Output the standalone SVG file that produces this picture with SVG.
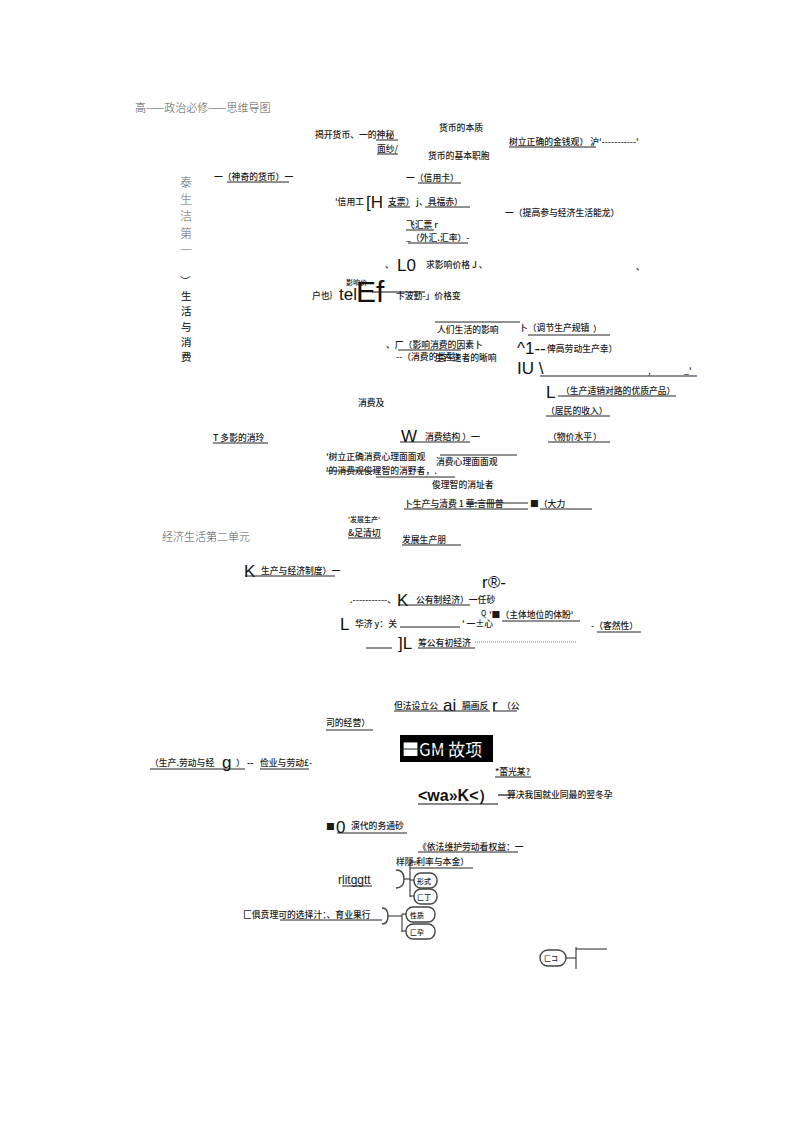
<svg xmlns="http://www.w3.org/2000/svg" width="793" height="1122" viewBox="0 0 793 1122">
<style>
text{font-family:"Noto Sans CJK SC","Noto Sans",sans-serif;font-size:8.8px;fill:#1a1a1a;font-weight:500}
.big{font-family:"Liberation Sans",sans-serif;font-size:17px;fill:#111;font-weight:normal}
.huge{font-family:"Liberation Sans",sans-serif;font-size:30px;fill:#111;font-weight:normal}
.title{font-size:11px;fill:#555;font-weight:300}
.vt{font-size:12px;fill:#666;font-weight:300}
.vt2{font-size:10.5px;fill:#333}
.sm{font-size:7px}
line,path{stroke:#222;stroke-width:1;fill:none}
.ln{stroke:#111;stroke-width:1.2}
.pill{fill:#fff;stroke:#444;stroke-width:1.4}
.dot{stroke:#777;stroke-dasharray:1 1}
</style>
<rect width="793" height="1122" fill="#fff"/>

<g id="title"><text class="title" x="135" y="112">高——政治必修——思维导图</text></g>
<g id="unit1-vertical">
<text class="vt" x="180" y="187">泰</text>
<text class="vt" x="180" y="204">生</text>
<text class="vt" x="180" y="221">洁</text>
<text class="vt" x="180" y="238">第</text>
<text class="vt" x="180" y="255">一</text>
<text class="vt2" x="180" y="285">︶</text>
<text class="vt2" x="181" y="300">生</text>
<text class="vt2" x="181" y="315">活</text>
<text class="vt2" x="181" y="331">与</text>
<text class="vt2" x="181" y="346">消</text>
<text class="vt2" x="181" y="361">费</text>
</g>
<g id="unit2"><text class="title" x="162" y="541">经济生活第二单元</text></g>

<g id="n-money">
<text x="439" y="131">货币的本质</text>
<text x="315" y="138">揭开货币、一的神秘</text>
<text x="377" y="152">面纱/</text>
<text x="509" y="145">树立正确的金钱观）  沪'-----------'</text>
<text x="428" y="159">货币的基本职胞</text>
<text x="214" y="180">一（神奇的货币）一</text>
<text x="406" y="181">一（信用卡）</text>
</g>
<g id="n-credit">
<text x="335" y="205">'信用工</text>
<text class="big" x="366" y="208">[H</text>
<text x="388" y="205">支票）  j、具福赤）</text>
<text x="505" y="216">一（提高参与经济生活能龙）</text>
<text x="406" y="228">飞汇票 r</text>
<text x="406" y="241">_（外汇.汇率）-</text>
</g>
<g id="n-price">
<text x="385" y="268">、</text>
<text class="big" x="397" y="271">L0</text>
<text x="426" y="268">求影响价格 J 、</text>
<text x="636" y="270">、</text>
<text class="sm" x="346" y="285">影响价</text>
<text x="312" y="299">户也｝</text>
<text class="big" x="339" y="300">tel</text>
<text class="huge" x="356" y="302">Ef</text>
<text x="396" y="299">卞波勤-」价格变</text>
</g>
<g id="n-influence">
<text x="437" y="333">人们生活的影响</text>
<text x="519" y="331">卜（调节生产规镇</text>
<text x="593" y="332" font-size="12">）</text>
<text x="386" y="348">、厂（影响消费的因素卜</text>
<text class="big" x="517" y="354">^1--</text>
<text x="547" y="352">俾高劳动生产幸）</text>
<text x="396" y="360">--（消费的类型）</text>
<text x="435" y="361">生产速者的晰响</text>
<text class="big" x="517" y="374">IU \</text>
<text x="648" y="374">,</text>
<text x="684" y="374">_'</text>
<text class="big" x="546" y="398">L</text>
<text x="561" y="394">（生产适销对路的优质产品）</text>
</g>
<g id="n-consume">
<text x="358" y="406">消费及</text>
<text x="546" y="414">（居民的收入）</text>
<text x="213" y="441">T 多影的消玲</text>
<text class="big" x="401" y="442">W</text>
<text x="425" y="440">消费结构 ）一</text>
<text x="548" y="440">（物价水平</text>
<text x="593" y="440" font-size="12">）</text>
<text x="326" y="460">'树立正确消费心理面面观</text>
<text x="436" y="465">消费心理面面观</text>
<text x="326" y="474">'的消费观俊理智的消野者，.</text>
<text x="432" y="488">俊理智的消址者</text>
</g>
<g id="n-production">
<text x="404" y="507">卜生产与清费 1 華:言冊普</text>
<text x="530" y="507">■（大力</text>
<text class="sm" x="348" y="522">'发展生产'</text>
<text x="348" y="536">&amp;足清切</text>
<text x="402" y="543">发展生产朋</text>
</g>
<g id="n-system">
<text class="big" x="244" y="577">K</text>
<text x="261" y="574">生产与经济制度）一</text>
<text class="big" x="482" y="588">r®-</text>
<text x="350" y="603">.-----------、</text>
<text class="big" x="397" y="606">K</text>
<text x="416" y="603">公有制经济）一任砂</text>
<text class="sm" x="481" y="616">Q</text>
<text x="489" y="618">'■（主体地位的体盼'</text>
<text class="big" x="340" y="630">L</text>
<text x="355" y="627">华济 y：关</text>
<text x="462" y="627">'  一±心</text>
<text x="591" y="629">-（客然性）</text>
<text class="big" x="398" y="649">]L</text>
<text x="418" y="646">筹公有初经济</text>
</g>
<g id="n-company">
<text x="394" y="709">但法设立公</text>
<text class="big" x="443" y="711">ai</text>
<text x="462" y="709">膈画反</text>
<text class="big" x="492" y="711">r</text>
<text x="502" y="709">（公</text>
<text x="326" y="726">司的经营）</text>
<rect x="400" y="735" width="93" height="27" fill="#000"/>
<text x="402" y="756" style="font-size:17px;fill:#fff;font-weight:normal">■GM 故项</text>
</g>
<g id="n-labor">
<text x="150" y="766">（生产.劳动与经</text>
<text class="big" x="222" y="768">g</text>
<text x="236" y="766">）</text>
<text x="247" y="766" style="font-weight:bold">--</text>
<text x="260" y="766">俭业与劳动£-</text>
<text x="495" y="775">*蕾光某?</text>
<text x="418" y="801" style="font-family:'Liberation Sans',sans-serif;font-size:16px;font-weight:bold;fill:#111">&lt;wa»K&lt;）</text>
<text x="507" y="798">算决我国就业同最的翌冬孕</text>
<text x="326" y="830">■</text>
<text class="big" x="336" y="833">0</text>
<text x="351" y="829">演代的务通砂</text>
<text x="418" y="850">《依法维护劳动看权益：一</text>
<text x="396" y="865">样隱.利率与本金）</text>
<text x="338" y="884" style="font-family:'Liberation Sans',sans-serif;font-size:12px;font-weight:normal">rlitggtt</text>
<text x="243" y="918">匚俱贲理可的选择汁：、育业果行</text>
</g>
<g id="n-pills">
<rect class="pill" x="414" y="873" width="23" height="15" rx="7"/>
<text x="417" y="884" class="sm">形式</text>
<rect class="pill" x="414" y="889" width="23" height="15" rx="7"/>
<text x="417" y="900" class="sm">匚丁</text>
<rect class="pill" x="406" y="907" width="29" height="15" rx="7"/>
<text x="410" y="918" class="sm">性质</text>
<rect class="pill" x="406" y="924" width="29" height="15" rx="7"/>
<text x="410" y="935" class="sm">匚孕</text>
<rect class="pill" x="540" y="950" width="26" height="16" rx="8"/>
<text x="544" y="961" class="sm">匚コ</text>
<path class="pill" d="M396,870 Q404,870 404,879 Q404,888 396,888"/>
<path class="pill" d="M382,908 Q388,908 388,916 Q388,924 382,924"/>
</g>

<g id="connectors">
<line x1="376" y1="140" x2="398" y2="140"/>
<line x1="377" y1="154" x2="398" y2="154"/>
<line x1="509" y1="147" x2="596" y2="147"/>
<line x1="227" y1="182" x2="289" y2="182"/>
<line x1="418" y1="183" x2="461" y2="183"/>
<line x1="388" y1="207" x2="410" y2="207"/>
<line x1="425" y1="207" x2="470" y2="207"/>
<line x1="406" y1="230" x2="434" y2="230"/>
<line x1="408" y1="243" x2="468" y2="243"/>
<line class="ln" x1="372" y1="292" x2="425" y2="292"/>
<line x1="435" y1="322" x2="520" y2="322"/>
<line x1="528" y1="335" x2="610" y2="335"/>
<line x1="398" y1="350" x2="461" y2="350"/>
<line x1="540" y1="376" x2="697" y2="376"/>
<line x1="558" y1="396" x2="676" y2="396"/>
<line x1="546" y1="416" x2="610" y2="416"/>
<line x1="213" y1="443" x2="268" y2="443"/>
<line x1="400" y1="442" x2="470" y2="442"/>
<line x1="548" y1="442" x2="610" y2="442"/>
<line x1="440" y1="455" x2="517" y2="455"/>
<line x1="326" y1="471" x2="380" y2="471"/>
<line x1="376" y1="477" x2="455" y2="477"/>
<line x1="404" y1="509" x2="528" y2="509"/>
<line x1="466" y1="503" x2="528" y2="503"/>
<line x1="540" y1="509" x2="592" y2="509"/>
<line x1="348" y1="538" x2="381" y2="538"/>
<line x1="402" y1="545" x2="461" y2="545"/>
<line x1="245" y1="576" x2="335" y2="576"/>
<line x1="398" y1="605" x2="470" y2="605"/>
<line x1="502" y1="621" x2="580" y2="621"/>
<line x1="400" y1="627" x2="460" y2="627"/>
<line x1="597" y1="632" x2="641" y2="632"/>
<line x1="366" y1="648" x2="392" y2="648"/>
<line x1="418" y1="648" x2="475" y2="648"/>
<line class="dot" x1="475" y1="642" x2="576" y2="642"/>
<line x1="394" y1="711" x2="490" y2="711"/>
<line x1="493" y1="711" x2="517" y2="711"/>
<line x1="326" y1="730" x2="373" y2="730"/>
<line x1="400" y1="749" x2="480" y2="749" stroke="#000" stroke-width="1.5"/>
<line x1="150" y1="769" x2="245" y2="769"/>
<line x1="260" y1="769" x2="309" y2="769"/>
<line x1="495" y1="777" x2="531" y2="777"/>
<line class="ln" x1="418" y1="804" x2="498" y2="804"/>
<line class="ln" x1="498" y1="795" x2="515" y2="795"/>
<line x1="337" y1="833" x2="407" y2="833"/>
<line x1="418" y1="852" x2="518" y2="852"/>
<line x1="410" y1="868" x2="473" y2="868"/>
<line x1="342" y1="886" x2="372" y2="886"/>
<line x1="280" y1="920" x2="382" y2="920"/>
<path d="M404,879 H410 M410,862 V897 M410,880 H414 M410,896 H414 M410,862 H418"/>
<path d="M388,916 H402 M402,914 V932 M402,914 H406 M402,931 H406"/>
<path d="M566,958 H576 M576,947 V969 M576,949 H607" stroke="#666"/>
</g>
</svg>
